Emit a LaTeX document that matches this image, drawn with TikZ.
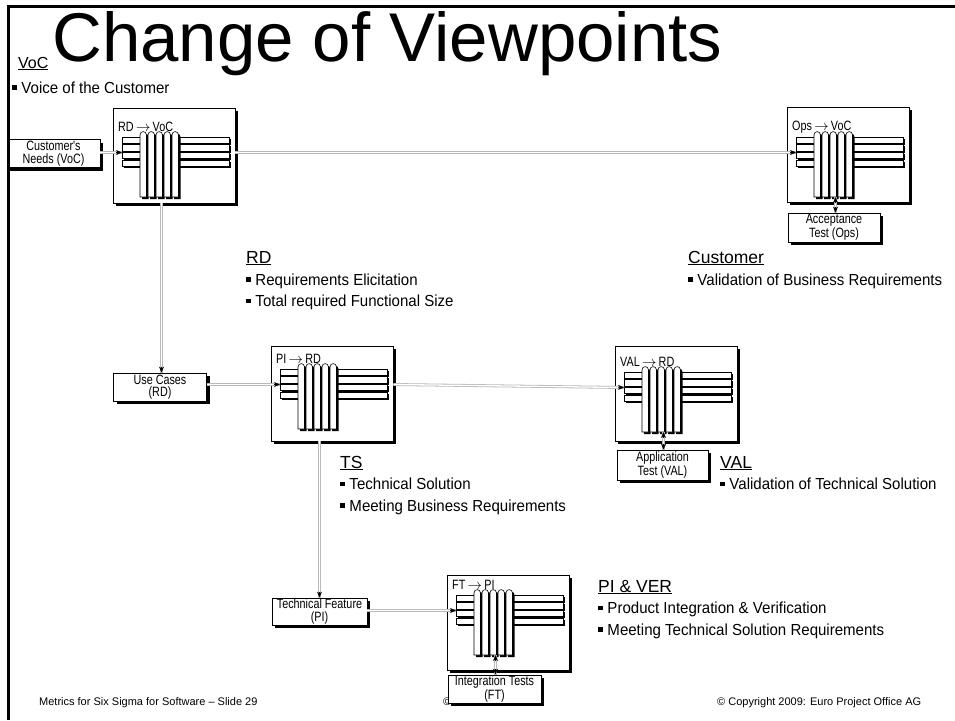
\documentclass[tikz,border=0pt]{standalone}
\usepackage{fontspec}
\setmainfont{Liberation Sans}
\newfontfamily\narrowfont[FakeStretch=0.8]{Liberation Sans}
\newfontfamily\slidefont[FakeStretch=0.94]{Liberation Sans}
\usetikzlibrary{arrows.meta,calc,shadows}

% small square bullet
\newcommand\sqbullet{\rule[0.2em]{0.28em}{0.28em}\hspace{0.3em}}
\newcommand\toarrow{\,\(\rightarrow\)\,}

\tikzset{
  frameline/.style={line width=3pt, black},
  shadowed/.style={draw=black, fill=white, line width=0.8pt,
    drop shadow={shadow xshift=3pt, shadow yshift=-3pt, fill=black, opacity=1}},
  mbox/.style={shadowed, minimum width=122pt, minimum height=95pt, inner sep=0pt},
  sbox/.style={shadowed, inner sep=0pt, align=center, minimum width=93pt, minimum height=28pt,
    font=\narrowfont\fontsize{13.5}{12.5}\selectfont},
  mlabel/.style={anchor=west, inner sep=0pt, font=\narrowfont\fontsize{13.5}{14}\selectfont},
  conn/.style={draw=gray!55, double=white, line width=0.8pt, double distance=1.3pt},
  tipline/.style={draw=black, line width=0.6pt, -{Stealth[length=6pt,width=5pt]}},
  head/.style={anchor=base west, inner sep=0pt, font=\fontsize{17.5}{20}\selectfont},
  bul/.style={anchor=base west, inner sep=0pt, font=\slidefont\fontsize{16}{18}\selectfont},
  foot/.style={anchor=base west, inner sep=0pt, font=\fontsize{11}{13}\selectfont},
}

% arrow tip ending at #1, coming from the direction of #2
\newcommand\tipat[2]{\draw[tipline] ($(#1)!6pt!(#2)$) -- (#1);}

% matrix diagram: name, left, top, inner vertical offset, caption
\newcommand\qfd[5]{%
  \begin{scope}[shift={(#2,#3)}]
    \node[mbox] (#1) at (61,47.5) {};
    \coordinate (#1-s) at (48.5,95);
    \begin{scope}[shift={(0,27+#4)}]
      \node[mlabel] (#1-cap) at (5,-8) {#5};
      % rows
      \foreach \ri in {0,...,3}{
        \fill[black] (10.5,3.5+7.75*\ri) rectangle (117.5,9.75+7.75*\ri);
        \draw[fill=white, line width=0.6pt] (9,2+7.75*\ri) rectangle (116,8.25+7.75*\ri);
      }
      % columns with wavy tops
      \foreach \ci in {0,...,4}{
        \pgfmathsetmacro\cx{27+8*\ci}
        \fill[black] (\cx+2,64) -- (\cx+2,2) .. controls (\cx+2,-2.5) and (\cx+8.5,-2.5) .. (\cx+8.5,2) -- (\cx+8.5,64) -- cycle;
        \draw[fill=white, line width=0.6pt] (\cx,62) -- (\cx,0) .. controls (\cx,-4.5) and (\cx+6.5,-4.5) .. (\cx+6.5,0) -- (\cx+6.5,62) -- cycle;
      }
      \coordinate (#1-in) at (9,17.5);
      \coordinate (#1-bot) at (48.5,62);
    \end{scope}
  \end{scope}}

\begin{document}
\begin{tikzpicture}[x=1pt,y=-1pt]
\useasboundingbox (0,0) rectangle (955,720);

% title
\node[anchor=base west, inner sep=0pt, font=\fontsize{16}{18}\selectfont] (voc) at (18,68) {\underline{VoC}};
\node[anchor=base west, inner sep=0pt, font=\fontsize{69}{71}\selectfont] (title) at (52,61) {Change of Viewpoints};
\node[bul] (vocb) at (12,93) {\sqbullet Voice of the Customer};

% footer (centre item lies behind the test box)
\node[foot] (fl) at (39,705) {Metrics for Six Sigma for Software -- Slide 29};
\node[foot] (fc) at (443,705) {©};
\node[foot] (fr) at (717,705) {© Copyright 2009: Euro Project Office AG};

% matrices
\qfd{rd}{113}{108}{0}{RD\toarrow VoC}
\qfd{ops}{787}{107}{1}{Ops\toarrow VoC}
\qfd{pi}{271}{346}{-6}{PI\toarrow RD}
\qfd{val}{615}{346}{-3}{VAL\toarrow RD}
\qfd{ft}{447}{575}{-9}{FT\toarrow PI}

% work products
\node[sbox] (cn) at (53.5,153.5) {Customer's\\Needs (VoC)};
\node[sbox] (uc) at (160,387) {Use Cases\\(RD)};
\node[sbox, minimum width=95pt, minimum height=27pt] (tf) at (319.5,611.5) {Technical Feature\\(PI)};
\node[sbox] (it) at (494.5,689) {Integration Tests\\(FT)};
\node[sbox, minimum width=92pt, minimum height=29pt] (at) at (834,227.5) {Acceptance\\Test (Ops)};
\node[sbox, minimum width=91pt, minimum height=30pt] (ap) at (662.5,465) {Application\\Test (VAL)};

% connector end points
\coordinate (cn-out) at (cn.east |- rd-in);
\coordinate (rd-out) at (rd.east |- rd-in);
\coordinate (uc-out) at (uc.east |- pi-in);
\coordinate (pi-out) at (pi.east |- pi-in);
\coordinate (tf-out) at (tf.east |- ft-in);
\coordinate (uc-top) at (uc.north -| rd-s);
\coordinate (tf-top) at (tf.north -| pi-s);
\coordinate (at-top) at (at.north -| ops-bot);
\coordinate (ap-top) at (ap.north -| val-bot);
\coordinate (it-top) at (it.north -| ft-bot);

% connectors
\draw[conn] (cn-out) -- (rd-in);   \tipat{rd-in}{cn-out}
\draw[conn] (rd-out) -- (ops-in);  \tipat{ops-in}{rd-out}
\draw[conn] (rd-s) -- (uc-top);    \tipat{uc-top}{rd-s}
\draw[conn] (uc-out) -- (pi-in);   \tipat{pi-in}{uc-out}
\draw[conn] (pi-out) -- (val-in);  \tipat{val-in}{pi-out}
\draw[conn] (pi-s) -- (tf-top);    \tipat{tf-top}{pi-s}
\draw[conn] (tf-out) -- (ft-in);   \tipat{ft-in}{tf-out}
\draw[conn] (ops-bot) -- (at-top); \tipat{ops-bot}{at-top} \tipat{at-top}{ops-bot}
\draw[conn] (val-bot) -- (ap-top); \tipat{val-bot}{ap-top} \tipat{ap-top}{val-bot}
\draw[conn] (ft-bot) -- (it-top);  \tipat{ft-bot}{it-top} \tipat{it-top}{ft-bot}

% viewpoint descriptions
\node[head] (rdh) at (246,263) {\underline{RD}};
\node[bul] (rdb1) at (246,285) {\sqbullet Requirements Elicitation};
\node[bul] (rdb2) at (246,306.5) {\sqbullet Total required Functional Size};

\node[head] (cuh) at (688,263) {\underline{Customer}};
\node[bul] (cub1) at (688,285) {\sqbullet Validation of Business Requirements};

\node[head] (tsh) at (340,468) {\underline{TS}};
\node[bul] (tsb1) at (340,489.5) {\sqbullet Technical Solution};
\node[bul] (tsb2) at (340,511) {\sqbullet Meeting Business Requirements};

\node[head] (vah) at (720,468) {\underline{VAL}};
\node[bul] (vab1) at (720,489.5) {\sqbullet Validation of Technical Solution};

\node[head] (pvh) at (598,592) {\underline{PI \& VER}};
\node[bul] (pvb1) at (598,613.5) {\sqbullet Product Integration \& Verification};
\node[bul] (pvb2) at (598,635) {\sqbullet Meeting Technical Solution Requirements};

% slide frame
\draw[frameline] (8.5,720) -- (8.5,6.5) -- (955,6.5);
\end{tikzpicture}
\end{document}
